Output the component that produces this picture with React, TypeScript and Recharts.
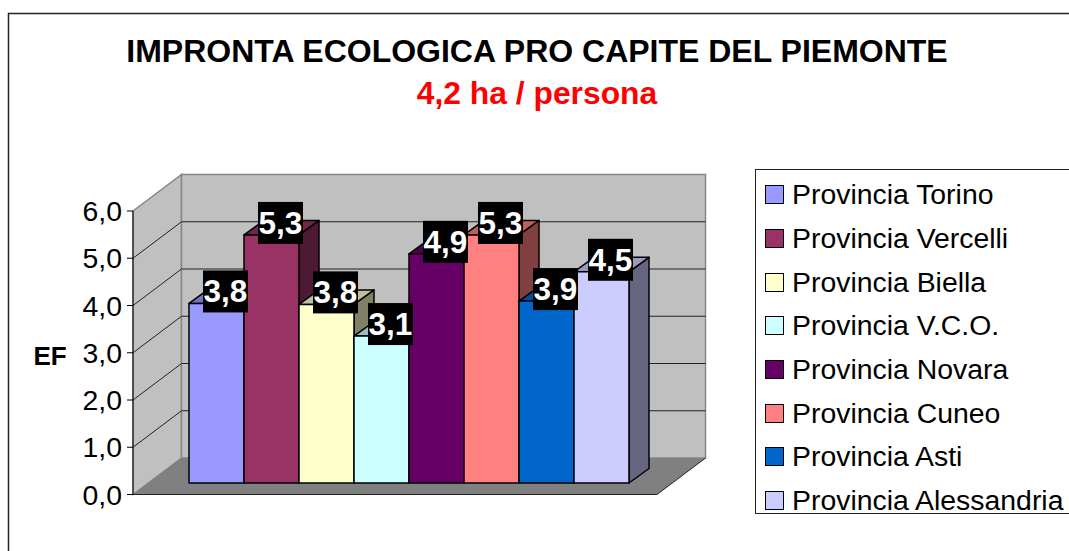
import { BarChart, Bar, XAxis, YAxis, Legend, LabelList, usePlotArea } from "recharts";

const provinces = [
  "Provincia Torino",
  "Provincia Vercelli",
  "Provincia Biella",
  "Provincia V.C.O.",
  "Provincia Novara",
  "Provincia Cuneo",
  "Provincia Asti",
  "Provincia Alessandria",
];
const values = [3.8, 5.25, 3.78, 3.11, 4.85, 5.25, 3.85, 4.47];
const colors = ["#9999FF", "#993366", "#FFFFCC", "#CCFFFF", "#660066", "#FF8080", "#0066CC", "#CCCCFF"];
const yTicks = [0, 1, 2, 3, 4, 5, 6];

const chartRow: Record<string, string | number> = { category: "EF" };
provinces.forEach((name, i) => {
  chartRow[name] = values[i];
});
const data = [chartRow];

const FONT = "'Liberation Sans', Arial, sans-serif";
const WALL_DX = 48.5;
const WALL_DY = 36.5;
const BAR_SHIFT_X = 14;
const BAR_SHIFT_Y = 11.5;
const BAR_DX = 20;
const BAR_DY = 14.5;

const comma = (v: number) => (Math.round(v * 10) / 10).toFixed(1).replace(".", ",");

function shade(hex: string, k: number) {
  const n = parseInt(hex.slice(1), 16);
  const c = [(n >> 16) & 255, (n >> 8) & 255, n & 255].map((v) => Math.round(v * k));
  return `rgb(${c[0]},${c[1]},${c[2]})`;
}

// back wall, side wall and floor of the old excel style 3d box
function Walls() {
  const plot = usePlotArea();
  if (!plot) return null;
  const { x, y, width, height } = plot;
  const bottom = y + height;
  const right = x + width;
  const pts = (list: number[][]) => list.map((p) => p.join(",")).join(" ");
  return (
    <g>
      <polygon
        points={pts([[x, y], [x + WALL_DX, y - WALL_DY], [x + WALL_DX, bottom - WALL_DY], [x, bottom]])}
        fill="#C0C0C0"
        stroke="#868686"
        strokeWidth={1.5}
      />
      <polygon
        points={pts([[x + WALL_DX, y - WALL_DY], [right + WALL_DX, y - WALL_DY], [right + WALL_DX, bottom - WALL_DY], [x + WALL_DX, bottom - WALL_DY]])}
        fill="#C0C0C0"
        stroke="#868686"
        strokeWidth={1.5}
      />
      <polygon
        points={pts([[x, bottom], [x + WALL_DX, bottom - WALL_DY], [right + WALL_DX, bottom - WALL_DY], [right, bottom]])}
        fill="#808080"
      />
      <path d={`M${x} ${bottom}L${right} ${bottom}L${right + WALL_DX} ${bottom - WALL_DY}`} fill="none" stroke="#222" strokeWidth={1} />
      {yTicks.slice(1, -1).map((t) => {
        const ty = bottom - (t / 6) * height;
        return (
          <path
            key={t}
            d={`M${x} ${ty}L${x + WALL_DX} ${ty - WALL_DY}L${right + WALL_DX} ${ty - WALL_DY}`}
            fill="none"
            stroke="#222"
            strokeWidth={1}
          />
        );
      })}
    </g>
  );
}

function Bar3D(props: any) {
  const { x, y, width, height, fill } = props;
  const left = x + BAR_SHIFT_X;
  const top = y - BAR_SHIFT_Y;
  const right = left + width;
  const base = top + height;
  return (
    <g stroke="#000" strokeWidth={1.5} strokeLinejoin="round">
      <path d={`M${right} ${top}L${right + BAR_DX} ${top - BAR_DY}L${right + BAR_DX} ${base - BAR_DY}L${right} ${base}Z`} fill={shade(fill, 0.5)} />
      <path d={`M${left} ${top}L${left + BAR_DX} ${top - BAR_DY}L${right + BAR_DX} ${top - BAR_DY}L${right} ${top}Z`} fill={shade(fill, 0.75)} />
      <rect x={left} y={top} width={width} height={height} fill={fill} />
    </g>
  );
}

function ValueTag(props: any) {
  const { x, y, value } = props;
  const left = x + BAR_SHIFT_X + 14;
  const boxBottom = y - BAR_SHIFT_Y + 9;
  return (
    <g>
      <rect x={left} y={boxBottom - 42} width={45} height={42} fill="#000" />
      <text x={left + 22.5} y={boxBottom - 10} textAnchor="middle" fill="#fff" fontFamily={FONT} fontWeight="bold" fontSize={31.5}>
        {comma(Number(value))}
      </text>
    </g>
  );
}

function LegendBox(props: any) {
  const { payload } = props;
  return (
    <div style={{ width: 340, height: 345, boxSizing: "border-box", border: "1px solid #222", background: "#fff", paddingTop: 3 }}>
      {(payload || []).map((item: any) => (
        <div key={item.value} style={{ height: 43.7, display: "flex", alignItems: "center", fontFamily: FONT, fontSize: 28.4, color: "#000", whiteSpace: "nowrap" }}>
          <span style={{ width: 19, height: 19, boxSizing: "border-box", marginLeft: 9, marginRight: 8, border: "1.5px solid #000", background: item.color }} />
          {item.value}
        </div>
      ))}
    </div>
  );
}

export default function App() {
  return (
    <div style={{ position: "absolute", left: 0, top: 0, width: 1069, height: 551, overflow: "hidden", background: "#fff" }}>
      <BarChart
        width={1069}
        height={551}
        data={data}
        barGap={0}
        barCategoryGap={42}
        margin={{ top: 211, right: 412, bottom: 56.5, left: 73 }}
      >
        <rect x={8.5} y={13.5} width={1200} height={700} fill="none" stroke="#222" strokeWidth={1.5} />
        <text x={537} y={62} textAnchor="middle" fontFamily={FONT} fontWeight="bold" fontSize={32} fill="#000">
          IMPRONTA ECOLOGICA PRO CAPITE DEL PIEMONTE
        </text>
        <text x={537} y={104} textAnchor="middle" fontFamily={FONT} fontWeight="bold" fontSize={31.8} fill="#FF0000">
          4,2 ha / persona
        </text>
        <text x={50} y={365} textAnchor="middle" fontFamily={FONT} fontWeight="bold" fontSize={26} fill="#000">
          EF
        </text>
        <Walls />
        <XAxis dataKey="category" hide />
        <YAxis
          width={60}
          domain={[0, 6]}
          ticks={yTicks}
          interval={0}
          tickFormatter={comma}
          tick={{ fill: "#000", fontFamily: FONT, fontSize: 28.4 }}
          tickSize={6}
          tickMargin={5}
          axisLine={{ stroke: "#000" }}
          tickLine={{ stroke: "#000" }}
        />
        <Legend
          layout="vertical"
          align="center"
          verticalAlign="middle"
          itemSorter={null}
          wrapperStyle={{ left: 755, top: 169, width: 340 }}
          content={<LegendBox />}
        />
        {provinces.map((name, i) => (
          <Bar key={name} dataKey={name} fill={colors[i]} isAnimationActive={false} shape={<Bar3D />}>
            <LabelList dataKey={name} content={<ValueTag />} />
          </Bar>
        ))}
      </BarChart>
    </div>
  );
}
